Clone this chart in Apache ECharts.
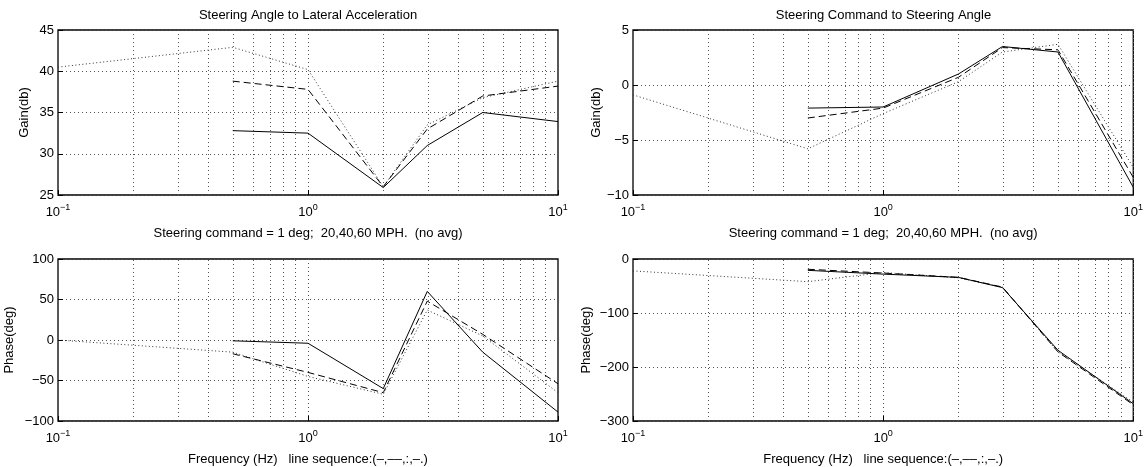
<!DOCTYPE html>
<html>
<head>
<meta charset="utf-8">
<script src="https://cdn.jsdelivr.net/npm/echarts@6/dist/echarts.min.js"></script>
<style>
  html, body { margin: 0; padding: 0; background: #fff; }
  #chart { width: 1146px; height: 467px; }
</style>
</head>
<body>
<div id="chart"></div>
<script>
// Test frequencies (Hz); the 60 MPH run also has a 0.1 Hz point
const freqFull = [0.1, 0.5, 1, 2, 3, 5, 10];
const freqTest = [0.5, 1, 2, 3, 5, 10];
// Minor log grid positions between decades
const minorFreqs = [0.2, 0.3, 0.4, 0.5, 0.6, 0.7, 0.8, 0.9, 2, 3, 4, 5, 6, 7, 8, 9];

// Steering angle -> lateral acceleration, gain (dB)
const latGain20 = [32.8, 32.5, 25.9, 31.0, 35.0, 33.9];
const latGain40 = [38.8, 37.8, 26.0, 33.0, 37.0, 38.2];
const latGain60 = [40.5, 42.9, 40.2, 26.0, 33.5, 36.8, 38.8];
// Steering angle -> lateral acceleration, phase (deg)
const latPhase20 = [-1, -4, -60, 60, -15, -89];
const latPhase40 = [-17, -40, -65, 48, 7, -54];
const latPhase60 = [0, -15, -45, -67, 37, 5, -65];

// Steering command -> steering angle, gain (dB)
const steerGain20 = [-2.1, -2.0, 1.0, 3.5, 3.0, -9.3];
const steerGain40 = [-3.0, -2.1, 0.7, 3.4, 3.2, -8.4];
const steerGain60 = [-0.9, -5.8, -2.6, 0.3, 3.0, 3.7, -7.5];
// Steering command -> steering angle, phase (deg)
const steerPhase20 = [-21, -28, -34, -53, -169, -268];
const steerPhase40 = [-19, -26, -34, -52, -172, -270];
const steerPhase60 = [-22, -42, -25, -35, -52, -172, -265];

const titles = ['Steering Angle to Lateral Acceleration', 'Steering Command to Steering Angle'];
const topXLabel = 'Steering command = 1 deg;  20,40,60 MPH.  (no avg)';
const bottomXLabel = 'Frequency (Hz)   line sequence:(\u2013,\u2013\u2013,:,\u2013.)';

const FONT = '"Liberation Sans", Arial, Helvetica, sans-serif';
const gridDots = { color: '#555', width: 1, type: [1, 3] };

const panels = [
  { left: 58,  top: 30,  width: 500, height: 165, yMin: 25,   yMax: 45, yStep: 5,   yName: 'Gain(db)',   yGap: 27, xName: topXLabel,
    s20: latGain20, s40: latGain40, s60: latGain60 },
  { left: 633, top: 30,  width: 501, height: 165, yMin: -10,  yMax: 5,  yStep: 5,   yName: 'Gain(db)',   yGap: 29, xName: topXLabel,
    s20: steerGain20, s40: steerGain40, s60: steerGain60 },
  { left: 58,  top: 259, width: 500, height: 165, yMin: -100, yMax: 100, yStep: 50, yName: 'Phase(deg)', yGap: 42, xName: bottomXLabel,
    s20: latPhase20, s40: latPhase40, s60: latPhase60 },
  { left: 633, top: 259, width: 501, height: 165, yMin: -300, yMax: 0,  yStep: 100, yName: 'Phase(deg)', yGap: 40, xName: bottomXLabel,
    s20: steerPhase20, s40: steerPhase40, s60: steerPhase60 }
];

const minus = v => (v < 0 ? '\u2212' + Math.abs(v) : String(v));
const toPoints = (freqs, vals) => freqs.map((f, k) => [Math.log10(f), vals[k]]);

const grid = [], xAxis = [], yAxis = [], series = [];
panels.forEach((p, i) => {
  grid.push({ left: p.left, top: p.top, width: p.width, height: p.height,
              show: true, borderColor: '#000', borderWidth: 1.3, backgroundColor: 'transparent' });
  xAxis.push({
    type: 'value', gridIndex: i, min: -1, max: 1, interval: 1, position: 'bottom',
    axisLine: { show: false, onZero: false },
    axisTick: { show: true, inside: true, length: 5, lineStyle: { color: '#000', width: 1 } },
    splitLine: { show: true, lineStyle: gridDots },
    axisLabel: {
      margin: 8, color: '#000',
      formatter: v => '{b|10}{s|' + minus(v) + '}',
      rich: {
        b: { fontFamily: FONT, fontSize: 13, color: '#000', lineHeight: 16, verticalAlign: 'bottom' },
        s: { fontFamily: FONT, fontSize: 9, color: '#000', lineHeight: 16, verticalAlign: 'top' }
      }
    },
    name: p.xName, nameLocation: 'middle', nameGap: 32,
    nameTextStyle: { fontFamily: FONT, fontSize: 13, color: '#000' }
  });
  yAxis.push({
    type: 'value', gridIndex: i, min: p.yMin, max: p.yMax, interval: p.yStep, position: 'left',
    axisLine: { show: false, onZero: false },
    axisTick: { show: true, inside: true, length: 5, lineStyle: { color: '#000', width: 1 } },
    splitLine: { show: true, lineStyle: gridDots },
    axisLabel: { margin: 4, color: '#000', fontFamily: FONT, fontSize: 13, formatter: minus },
    name: p.yName, nameLocation: 'middle', nameGap: p.yGap,
    nameTextStyle: { fontFamily: FONT, fontSize: 13, color: '#000' }
  });
  // minor log grid lines
  series.push({
    type: 'line', xAxisIndex: i, yAxisIndex: i, data: [], silent: true, animation: false,
    markLine: {
      silent: true, animation: false, symbol: ['none', 'none'], label: { show: false },
      lineStyle: gridDots, emphasis: { disabled: true },
      data: minorFreqs.map(f => ({ xAxis: Math.log10(f) }))
    }
  });
  const base = { type: 'line', xAxisIndex: i, yAxisIndex: i, symbol: 'none', silent: true, animation: false };
  series.push(Object.assign({}, base, { name: '60 MPH', z: 3, data: toPoints(freqFull, p.s60),
    lineStyle: { color: '#333', width: 1, type: [1, 2.5] } }));
  series.push(Object.assign({}, base, { name: '40 MPH', z: 4, data: toPoints(freqTest, p.s40),
    lineStyle: { color: '#000', width: 1, type: [7, 4] } }));
  series.push(Object.assign({}, base, { name: '20 MPH', z: 5, data: toPoints(freqTest, p.s20),
    lineStyle: { color: '#000', width: 1 } }));
});

const graphic = titles.map((t, k) => ({
  type: 'text', x: panels[k].left + panels[k].width / 2, y: 15,
  style: { text: t, fill: '#000', font: '13px ' + FONT,
           align: 'center', verticalAlign: 'middle', textAlign: 'center', textVerticalAlign: 'middle' }
}));

const chart = echarts.init(document.getElementById('chart'), null, { renderer: 'canvas' });
chart.setOption({ animation: false, backgroundColor: '#fff', grid, xAxis, yAxis, series, graphic });
</script>
</body>
</html>
